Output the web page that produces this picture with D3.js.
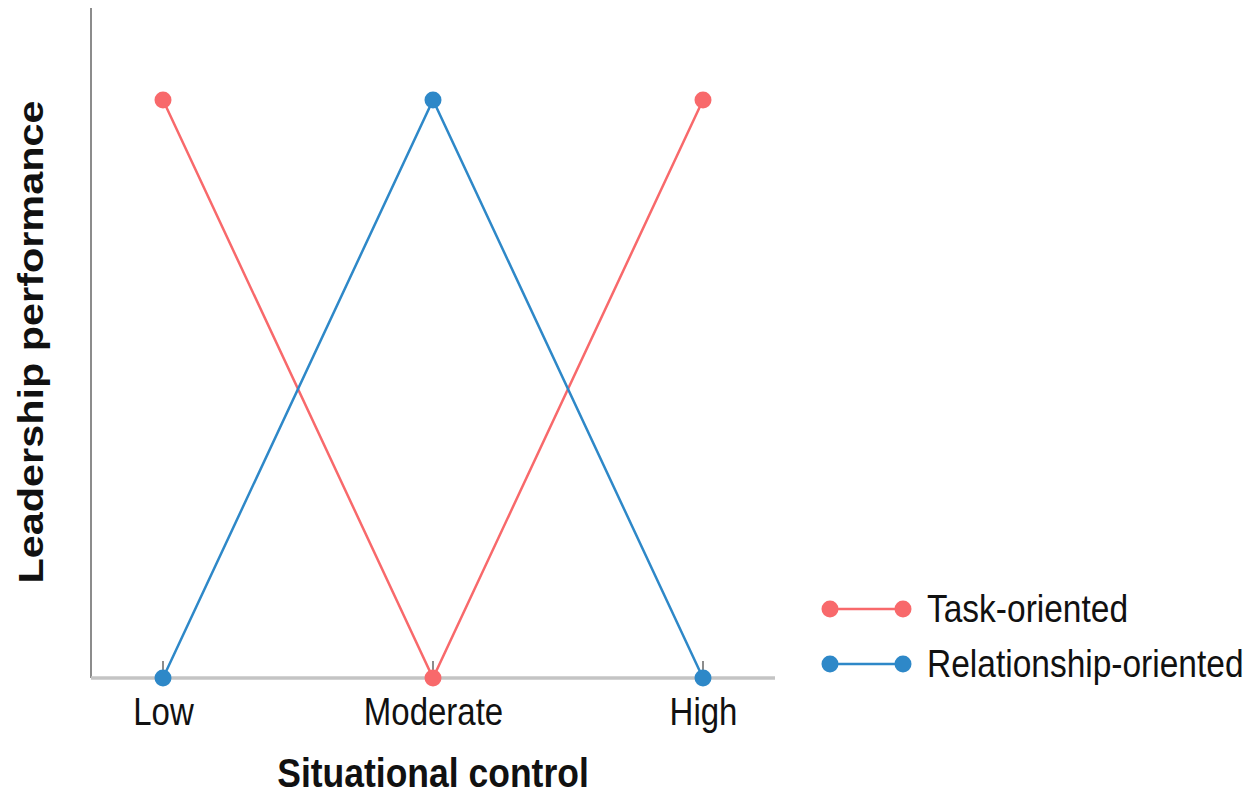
<!DOCTYPE html>
<html>
<head>
<meta charset="utf-8">
<script src="https://cdn.jsdelivr.net/npm/d3@7"></script>
<style>
  body { margin: 0; background: #fff; }
  text { font-family: "Liberation Sans", Arial, sans-serif; }
</style>
</head>
<body>
<div id="chart"></div>
<script>
// Dữ liệu
const categories = ["Low", "Moderate", "High"];
const seriesNames = ["Task-oriented", "Relationship-oriented"];
const taskValues = [1, 0, 1];
const relationValues = [0, 1, 0];
const colors = ["#f8696b", "#2e88c8"];

const W = 1258, H = 796;
const margin = { top: 100, left: 91, bottom: 118 };
const stretch = 1.15; // chữ trong ảnh gốc bị kéo dãn theo chiều dọc

const svg = d3.select("#chart").append("svg")
  .attr("width", W)
  .attr("height", H);

const x = d3.scalePoint()
  .domain(categories)
  .range([163, 703]);

const y = d3.scaleLinear()
  .domain([0, 1])
  .range([H - margin.bottom, margin.top]);

const y0 = y(0);

// Trục Y (chỉ đường dọc)
svg.append("line")
  .attr("x1", margin.left).attr("x2", margin.left)
  .attr("y1", 8).attr("y2", y0)
  .attr("stroke", "#8c8c8c")
  .attr("stroke-width", 2);

// Trục X
const xAxis = svg.append("g")
  .attr("transform", `translate(0,${y0})`)
  .call(d3.axisBottom(x).tickSize(0));
xAxis.select(".domain").remove();
xAxis.selectAll("text")
  .attr("y", 0)
  .attr("dy", 0)
  .attr("transform", `translate(0,47) scale(1,${stretch})`)
  .style("font-size", "33px")
  .style("font-family", "'Liberation Sans', Arial, sans-serif")
  .attr("fill", "#111");

// tick nhỏ hướng lên
svg.selectAll(".tickUp")
  .data(categories)
  .enter().append("line")
  .attr("class", "tickUp")
  .attr("x1", d => x(d)).attr("x2", d => x(d))
  .attr("y1", y0).attr("y2", y0 - 17)
  .attr("stroke", "#666")
  .attr("stroke-width", 1.5);

svg.append("line")
  .attr("x1", margin.left).attr("x2", 775)
  .attr("y1", y0).attr("y2", y0)
  .attr("stroke", "#c4c4c4")
  .attr("stroke-width", 3.5);

// Các đường
const series = [taskValues, relationValues];
const line = d3.line()
  .x((d, i) => x(categories[i]))
  .y(d => y(d));

series.forEach((vals, k) => {
  svg.append("path")
    .datum(vals)
    .attr("d", line)
    .attr("fill", "none")
    .attr("stroke", colors[k])
    .attr("stroke-width", 2.5);
});
series.forEach((vals, k) => {
  svg.selectAll(".pt" + k)
    .data(vals)
    .enter().append("circle")
    .attr("cx", (d, i) => x(categories[i]))
    .attr("cy", d => y(d))
    .attr("r", 8.5)
    .attr("fill", colors[k]);
});

// Tiêu đề trục
svg.append("text")
  .attr("transform", `translate(433,787) scale(1,${stretch})`)
  .attr("text-anchor", "middle")
  .style("font-size", "35.5px")
  .style("font-weight", "700")
  .attr("fill", "#111")
  .text("Situational control");

svg.append("text")
  .attr("transform", `translate(43,342) scale(1,${stretch}) rotate(-90)`)
  .attr("text-anchor", "middle")
  .style("font-size", "36px")
  .style("font-weight", "700")
  .attr("fill", "#111")
  .text("Leadership performance");

// Chú thích
const legend = svg.append("g");
seriesNames.forEach((name, k) => {
  const ly = 609 + k * 55;
  legend.append("line")
    .attr("x1", 830).attr("x2", 903)
    .attr("y1", ly).attr("y2", ly)
    .attr("stroke", colors[k])
    .attr("stroke-width", 2.5);
  legend.selectAll(".lp" + k)
    .data([830, 903])
    .enter().append("circle")
    .attr("cx", d => d).attr("cy", ly)
    .attr("r", 8.5)
    .attr("fill", colors[k]);
  legend.append("text")
    .attr("transform", `translate(927,${ly + 13}) scale(1,${stretch})`)
    .style("font-size", "33.5px")
    .attr("fill", "#111")
    .text(name);
});
</script>
</body>
</html>
